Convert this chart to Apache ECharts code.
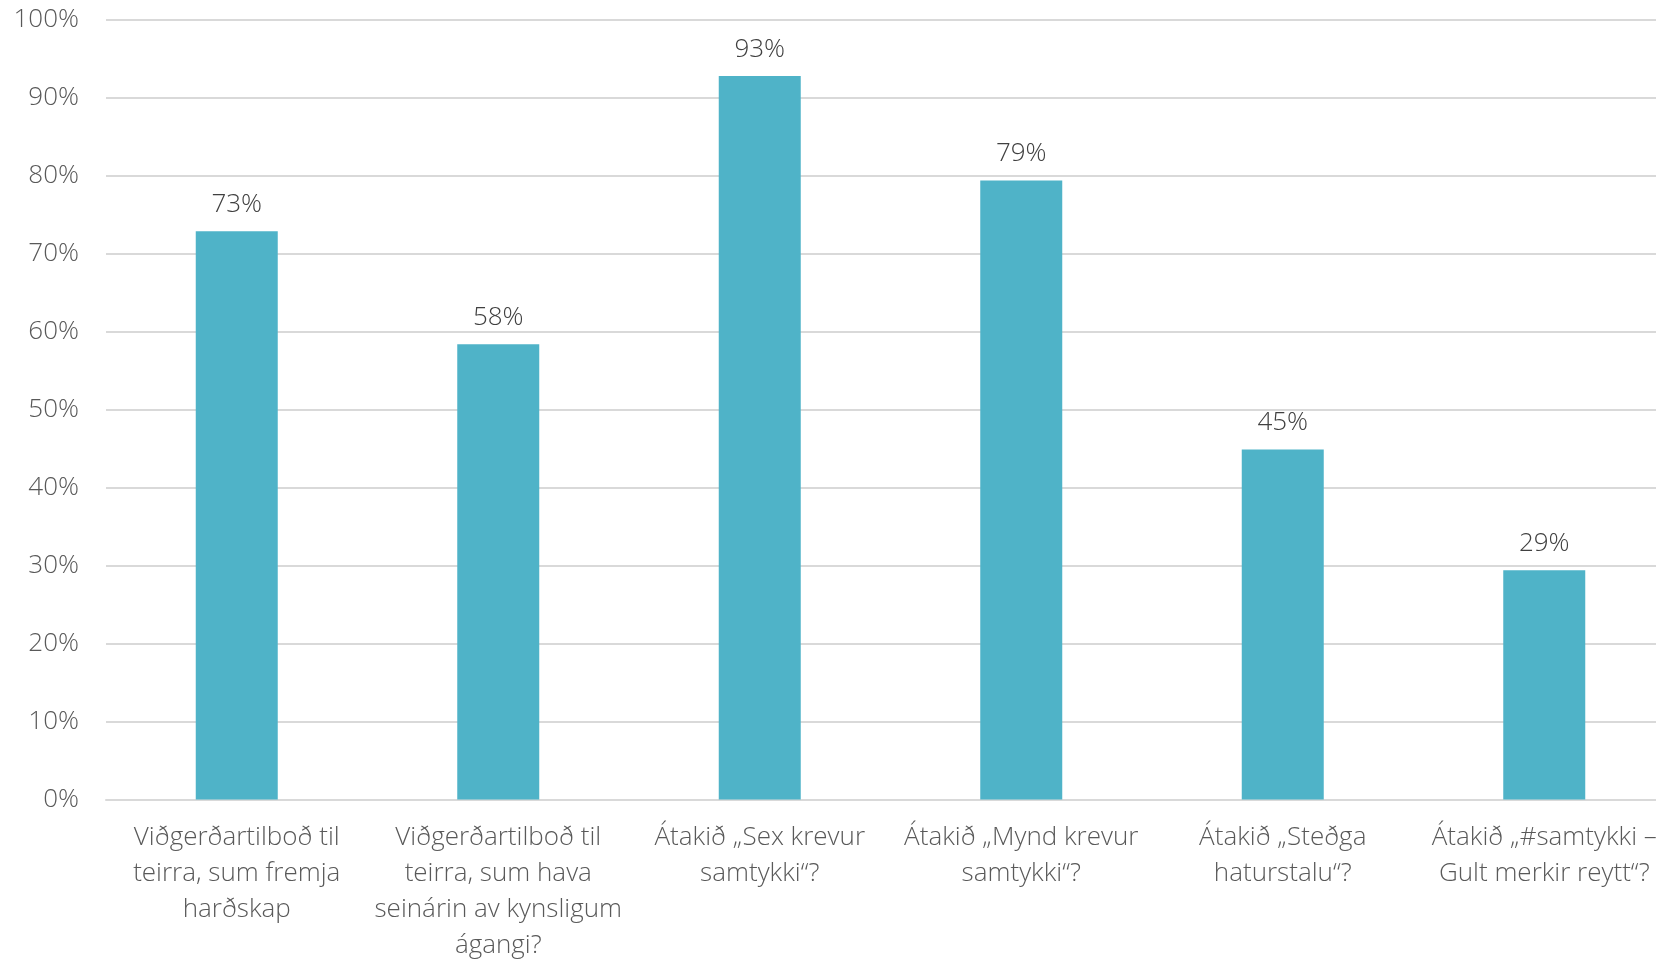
<!DOCTYPE html>
<html>
<head>
<meta charset="utf-8">
<script src="https://cdn.jsdelivr.net/npm/echarts@6/dist/echarts.min.js"></script>
<style>
html,body{margin:0;padding:0;background:#fff;overflow:hidden;}
#chart{width:1656px;height:961px;}
</style>
</head>
<body>
<div id="chart"></div>
<script>
var categories = [
  "Viðgerðartilboð til\nteirra, sum fremja\nharðskap",
  "Viðgerðartilboð til\nteirra, sum hava\nseinárin av kynsligum\nágangi?",
  "Átakið „Sex krevur\nsamtykki“?",
  "Átakið „Mynd krevur\nsamtykki“?",
  "Átakið „Steðga\nhaturstalu“?",
  "Átakið „#samtykki –\nGult merkir reytt“?"
];
var values = [0.729, 0.584, 0.928, 0.794, 0.449, 0.294];
var yTicks = [0, 0.1, 0.2, 0.3, 0.4, 0.5, 0.6, 0.7, 0.8, 0.9, 1.0];

var chart = echarts.init(document.getElementById('chart'), null, {renderer: 'canvas'});
var font = '"Open Sans", "DejaVu Sans", sans-serif';
chart.setOption({
  animation: false,
  backgroundColor: '#ffffff',
  grid: {left: 106, width: 1569, top: 20, height: 779.5, containLabel: false, outerBoundsMode: 'none'},
  xAxis: {
    type: 'category',
    data: categories,
    axisLine: {show: true, lineStyle: {color: '#d9d9d9', width: 2}},
    axisTick: {show: false},
    axisLabel: {
      interval: 0,
      margin: 20,
      color: '#595959',
      fontFamily: font,
      fontWeight: 300,
      fontSize: 26,
      lineHeight: 36,
      align: 'center'
    }
  },
  yAxis: {
    type: 'value',
    min: yTicks[0],
    max: yTicks[yTicks.length - 1],
    interval: 0.1,
    axisLine: {show: false},
    axisTick: {show: false},
    splitLine: {show: true, lineStyle: {color: '#d9d9d9', width: 2}},
    axisLabel: {
      margin: 27,
      color: '#595959',
      fontFamily: font,
      fontWeight: 300,
      fontSize: 26,
      formatter: function (v) { return Math.round(v * 100) + '%'; }
    }
  },
  series: [{
    type: 'bar',
    data: values,
    barWidth: 82,
    itemStyle: {color: '#4FB3C8'},
    label: {
      show: true,
      position: 'top',
      distance: 14,
      color: '#404040',
      fontFamily: font,
      fontWeight: 300,
      fontSize: 26,
      formatter: function (p) { return Math.round(p.value * 100) + '%'; }
    }
  }]
});
</script>
</body>
</html>
